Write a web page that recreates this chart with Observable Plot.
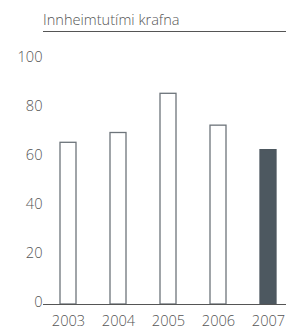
<!DOCTYPE html>
<html>
<head>
<meta charset="utf-8">
<script src="https://cdn.jsdelivr.net/npm/d3@7"></script>
<script src="https://cdn.jsdelivr.net/npm/@observablehq/plot@0.6"></script>
<style>
  body { margin: 0; background: #fff; font-family: "Open Sans", sans-serif; }
  #title { margin-left: 43px; height: 32px; box-sizing: border-box; border-bottom: 1px solid #555; font-size: 14.6px; font-weight: 300; color: #555; padding-top: 9px; line-height: 20px; }
</style>
</head>
<body>
<div id="title">Innheimtutími krafna</div>
<div id="chart"></div>
<script>
const years = ["2003", "2004", "2005", "2006", "2007"];
const values = [66, 70, 86, 73, 63];
const highlight = [false, false, false, false, true];
const yTicks = [0, 20, 40, 60, 80, 100];

const data = years.map((y, i) => ({year: y, value: values[i], hi: highlight[i]}));

const chart = Plot.plot({
  width: 286,
  height: 300,
  marginLeft: 43,
  marginRight: 0,
  marginTop: 27,
  marginBottom: 28,
  style: {fontFamily: "Open Sans, sans-serif", fontSize: "14.6px", fontWeight: 300, color: "#555", background: "#fff"},
  x: {domain: years, range: [43, 293], paddingInner: 0.68, paddingOuter: 0.34, label: null},
  y: {domain: [0, 100], label: null},
  marks: [
    Plot.barY(data, {x: "year", y: "value", fill: d => d.hi ? "#4d5860" : "#fff", stroke: d => d.hi ? "#4d5860" : "#6d747a", strokeWidth: 1.3}),
    Plot.ruleY([0], {stroke: "#555", strokeWidth: 1}),
    Plot.axisY({ticks: yTicks, tickSize: 0, tickPadding: 1, dy: -2, label: null}),
    Plot.axisX({tickSize: 0, tickPadding: 11, label: null})
  ]
});
document.getElementById("chart").appendChild(chart);
</script>
</body>
</html>
